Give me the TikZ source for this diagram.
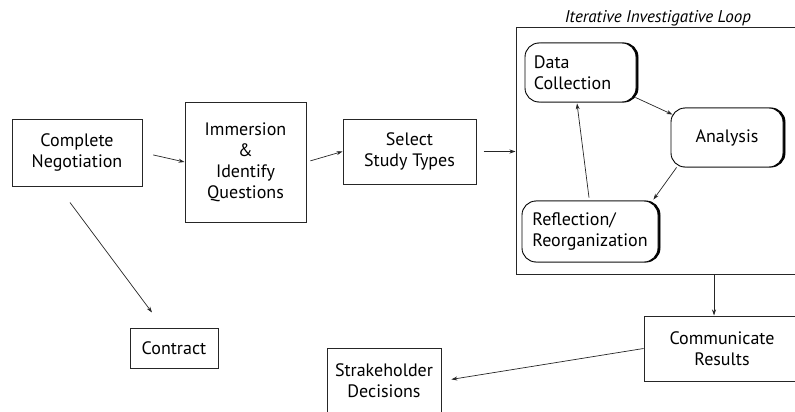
\documentclass[tikz,border=0pt]{standalone}
\usepackage{fontspec}
\setmainfont{PT Sans}
\setsansfont{PT Sans}
\usepackage{tikz}
\usetikzlibrary{arrows.meta, positioning, shadows}
\usepackage{xcolor}

\begin{document}
\begin{tikzpicture}[
      x=1pt, y=-1pt,
      every node/.style={font=\sffamily\fontsize{18}{21}\selectfont},
      stepbox/.style={rectangle, draw=black!85, line width=1pt, align=center, inner sep=2pt},
      loopbox/.style={rectangle, draw=black!85, line width=1pt},
      phase/.style={rectangle, rounded corners=14pt, draw=black, fill=white, line width=0.9pt, align=left, inner sep=4pt,
                    copy shadow={shadow xshift=2pt, shadow yshift=0pt, fill=black, draw=black}},
      arrow/.style={-{Stealth[length=6pt, width=4pt]}, line width=0.7pt, black!85}
    ]

    \clip (0,0) rectangle (795,412);

    % Nodes
    \node[stepbox, minimum width=130, minimum height=67] (negotiation) at (77,152.5) {Complete\\Negotiation};
    \node[stepbox, minimum width=121, minimum height=120] (immersion) at (245.5,162) {Immersion\\\&\\Identify\\Questions};
    \node[stepbox, minimum width=133, minimum height=65] (select) at (409.5,151.5) {Select\\Study Types};
    \node[stepbox, minimum width=88, minimum height=40] (contract) at (174,348) {Contract};

    \node[loopbox, minimum width=284, minimum height=246,
          label={[font=\sffamily\itshape\fontsize{17}{20}\selectfont, yshift=-2pt]above:Iterative Investigative Loop}] (loop) at (658,151) {};

    \node[phase, minimum width=111, minimum height=59] (data) at (580.5,72.5) {Data\\Collection\hspace*{16pt}};
    \node[phase, align=center, minimum width=112, minimum height=59] (analysis) at (727,137.5) {Analysis};
    \node[phase, minimum width=136, minimum height=61] (reflection) at (590,231.5) {Reflection/\\Reorganization};

    \node[stepbox, minimum width=156, minimum height=65] (communicate) at (722,348.5) {Communicate\\Results};
    \node[stepbox, minimum width=114, minimum height=66] (decisions) at (384,381) {Strakeholder\\Decisions};

    % Arrows
    \draw[arrow, shorten <=11pt] (negotiation.east) -- (immersion.west);
    \draw[arrow, shorten <=4pt] (immersion.east) -- (select.west);
    \draw[arrow, shorten <=7pt] (select.east) -- (select.east -| loop.west);
    \draw[arrow] ([shift={(-7,16)}]negotiation.south) -- ([shift={(-22,-15)}]contract.north);

    \draw[arrow] ([shift={(-1,-5)}]data.south east) -- ([shift={(2,7)}]analysis.north west);
    \draw[arrow] ([shift={(6,0)}]analysis.south west) -- ([shift={(-5,-1)}]reflection.north east);
    \draw[arrow] ([shift={(-1,-3)}]reflection.north) -- ([shift={(-3.5,1)}]data.south);

    \draw[arrow] ([xshift=-8pt]communicate.north |- loop.south) -- ([xshift=-8pt]communicate.north);
    \draw[arrow, shorten >=10pt] (communicate.west) -- (decisions.east);

    \end{tikzpicture}
\end{document}
